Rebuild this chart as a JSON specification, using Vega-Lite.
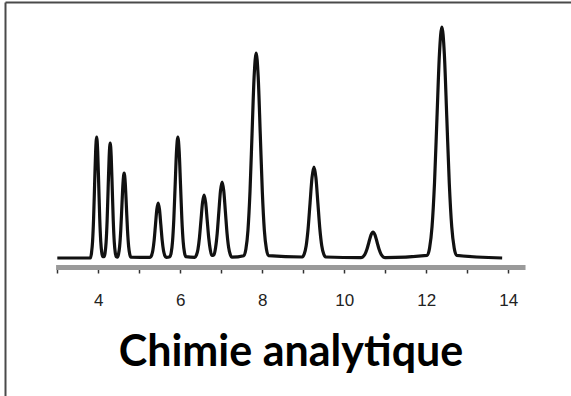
{
  "$schema": "https://vega.github.io/schema/vega-lite/v6.json",
  "width": 566,
  "height": 394,
  "autosize": {"type": "none"},
  "padding": {"left": 5, "top": 2, "right": 0, "bottom": 0},
  "background": "white",
  "config": {"view": {"stroke": null}},
  "datasets": {
    "signal": [
      {"t": 3.0, "s": 0},
      {"t": 3.81, "s": 0},
      {"t": 3.835, "s": 5.3},
      {"t": 3.86, "s": 16.4},
      {"t": 3.885, "s": 39.3},
      {"t": 3.91, "s": 73.4},
      {"t": 3.935, "s": 106.8},
      {"t": 3.96, "s": 121},
      {"t": 3.985, "s": 106.8},
      {"t": 4.01, "s": 73.4},
      {"t": 4.035, "s": 39.3},
      {"t": 4.06, "s": 16.4},
      {"t": 4.085, "s": 5.3},
      {"t": 4.11, "s": 1.3},
      {"t": 4.14, "s": 1.3},
      {"t": 4.165, "s": 5.0},
      {"t": 4.19, "s": 15.6},
      {"t": 4.215, "s": 37.3},
      {"t": 4.24, "s": 69.7},
      {"t": 4.265, "s": 101.5},
      {"t": 4.29, "s": 115},
      {"t": 4.315, "s": 101.5},
      {"t": 4.34, "s": 69.7},
      {"t": 4.365, "s": 37.3},
      {"t": 4.39, "s": 15.6},
      {"t": 4.415, "s": 5.0},
      {"t": 4.44, "s": 1.3},
      {"t": 4.465, "s": 0.9},
      {"t": 4.4925, "s": 3.7},
      {"t": 4.52, "s": 11.5},
      {"t": 4.5475, "s": 27.6},
      {"t": 4.575, "s": 51.6},
      {"t": 4.6025, "s": 75.0},
      {"t": 4.63, "s": 85},
      {"t": 4.6575, "s": 75.0},
      {"t": 4.685, "s": 51.6},
      {"t": 4.7125, "s": 27.6},
      {"t": 4.74, "s": 11.5},
      {"t": 4.7675, "s": 3.7},
      {"t": 4.795, "s": 0.9},
      {"t": 5.265, "s": 0.6},
      {"t": 5.2975, "s": 2.4},
      {"t": 5.33, "s": 7.4},
      {"t": 5.3625, "s": 17.9},
      {"t": 5.395, "s": 33.4},
      {"t": 5.4275, "s": 48.5},
      {"t": 5.46, "s": 55},
      {"t": 5.4925, "s": 48.5},
      {"t": 5.525, "s": 33.4},
      {"t": 5.5575, "s": 17.9},
      {"t": 5.59, "s": 7.4},
      {"t": 5.6225, "s": 2.4},
      {"t": 5.655, "s": 0.6},
      {"t": 5.745, "s": 1.3},
      {"t": 5.7775, "s": 5.3},
      {"t": 5.81, "s": 16.4},
      {"t": 5.8425, "s": 39.3},
      {"t": 5.875, "s": 73.4},
      {"t": 5.9075, "s": 106.8},
      {"t": 5.94, "s": 121},
      {"t": 5.9725, "s": 106.8},
      {"t": 6.005, "s": 73.4},
      {"t": 6.0375, "s": 39.3},
      {"t": 6.07, "s": 16.4},
      {"t": 6.1025, "s": 5.3},
      {"t": 6.135, "s": 1.3},
      {"t": 6.355, "s": 0.7},
      {"t": 6.3925, "s": 2.8},
      {"t": 6.43, "s": 8.5},
      {"t": 6.4675, "s": 20.5},
      {"t": 6.505, "s": 38.2},
      {"t": 6.5425, "s": 55.6},
      {"t": 6.58, "s": 63},
      {"t": 6.6175, "s": 55.6},
      {"t": 6.655, "s": 38.2},
      {"t": 6.6925, "s": 20.5},
      {"t": 6.73, "s": 8.5},
      {"t": 6.7675, "s": 2.8},
      {"t": 6.79, "s": 2.5},
      {"t": 6.82, "s": 3.3},
      {"t": 6.86, "s": 10.3},
      {"t": 6.9, "s": 24.7},
      {"t": 6.94, "s": 46.1},
      {"t": 6.98, "s": 67.1},
      {"t": 7.02, "s": 76},
      {"t": 7.06, "s": 67.1},
      {"t": 7.1, "s": 46.1},
      {"t": 7.14, "s": 24.7},
      {"t": 7.18, "s": 10.3},
      {"t": 7.22, "s": 3.3},
      {"t": 7.26, "s": 0.8},
      {"t": 7.55, "s": 2.3},
      {"t": 7.6, "s": 9.0},
      {"t": 7.65, "s": 27.7},
      {"t": 7.7, "s": 66.6},
      {"t": 7.75, "s": 124.3},
      {"t": 7.8, "s": 180.9},
      {"t": 7.85, "s": 205},
      {"t": 7.9, "s": 180.9},
      {"t": 7.95, "s": 124.3},
      {"t": 8.0, "s": 66.6},
      {"t": 8.05, "s": 27.7},
      {"t": 8.1, "s": 9.0},
      {"t": 8.15, "s": 2.3},
      {"t": 8.975, "s": 1.0},
      {"t": 9.0225, "s": 4.0},
      {"t": 9.07, "s": 12.3},
      {"t": 9.1175, "s": 29.5},
      {"t": 9.165, "s": 55.2},
      {"t": 9.2125, "s": 80.3},
      {"t": 9.26, "s": 91},
      {"t": 9.3075, "s": 80.3},
      {"t": 9.355, "s": 55.2},
      {"t": 9.4025, "s": 29.5},
      {"t": 9.45, "s": 12.3},
      {"t": 9.4975, "s": 4.0},
      {"t": 9.545, "s": 1.0},
      {"t": 10.4, "s": 0.3},
      {"t": 10.45, "s": 1.1},
      {"t": 10.5, "s": 3.5},
      {"t": 10.55, "s": 8.4},
      {"t": 10.6, "s": 15.8},
      {"t": 10.65, "s": 22.9},
      {"t": 10.7, "s": 26},
      {"t": 10.75, "s": 22.9},
      {"t": 10.8, "s": 15.8},
      {"t": 10.85, "s": 8.4},
      {"t": 10.9, "s": 3.5},
      {"t": 10.95, "s": 1.1},
      {"t": 11.0, "s": 0.3},
      {"t": 12.02, "s": 2.6},
      {"t": 12.08, "s": 10.1},
      {"t": 12.14, "s": 31.3},
      {"t": 12.2, "s": 75.0},
      {"t": 12.26, "s": 140.1},
      {"t": 12.32, "s": 203.9},
      {"t": 12.38, "s": 231},
      {"t": 12.44, "s": 203.9},
      {"t": 12.5, "s": 140.1},
      {"t": 12.56, "s": 75.0},
      {"t": 12.62, "s": 31.3},
      {"t": 12.68, "s": 10.1},
      {"t": 12.74, "s": 2.6},
      {"t": 13.85, "s": 0}
    ],
    "axisline": [{"start": 2.97, "end": 14.42, "level": -9.5}]
  },
  "resolve": {"axis": {"x": "independent", "y": "independent"}},
  "layer": [
    {
      "data": {"name": "axisline"},
      "mark": {"type": "rule", "color": "#9a9a9a", "strokeWidth": 5},
      "encoding": {
        "x": {
          "field": "start", "type": "quantitative",
          "scale": {"domain": [1.7244, 15.529], "nice": false, "zero": false},
          "axis": {"orient": "top", "domain": true, "domainColor": "#4a4a4a", "domainWidth": 2, "ticks": false, "labels": false, "grid": false, "title": null}
        },
        "x2": {"field": "end"},
        "y": {
          "field": "level", "type": "quantitative",
          "scale": {"domain": [-138, 256], "nice": false, "zero": false},
          "axis": {"orient": "left", "domain": true, "domainColor": "#4a4a4a", "domainWidth": 2, "ticks": false, "labels": false, "grid": false, "title": null}
        }
      }
    },
    {
      "data": {"name": "signal"},
      "mark": {"type": "line", "interpolate": "monotone", "color": "#111111", "strokeWidth": 3.2, "strokeJoin": "round"},
      "encoding": {
        "x": {
          "field": "t", "type": "quantitative",
          "scale": {"domain": [1.7244, 15.529], "nice": false, "zero": false},
          "axis": {
            "orient": "bottom", "offset": -128,
            "values": [3, 4, 5, 6, 7, 8, 9, 10, 11, 12, 13, 14],
            "domain": false, "grid": false,
            "ticks": true, "tickSize": 5, "tickColor": "#333333", "tickWidth": 1.5,
            "labelExpr": "datum.value % 2 == 0 ? datum.label : ''",
            "labelFont": "Liberation Sans", "labelFontSize": 17, "labelColor": "#222222",
            "labelBaseline": "alphabetic", "labelPadding": 32, "labelFlush": false,
            "title": "Chimie analytique",
            "titleFont": "Lato", "titleFontSize": 43, "titleFontWeight": "bold", "titleColor": "#000000",
            "titleBaseline": "alphabetic", "titleAlign": "center", "titleX": 285.5, "titleY": 97
          }
        },
        "y": {
          "field": "s", "type": "quantitative",
          "scale": {"domain": [-138, 256], "nice": false, "zero": false},
          "axis": null
        }
      }
    }
  ]
}
